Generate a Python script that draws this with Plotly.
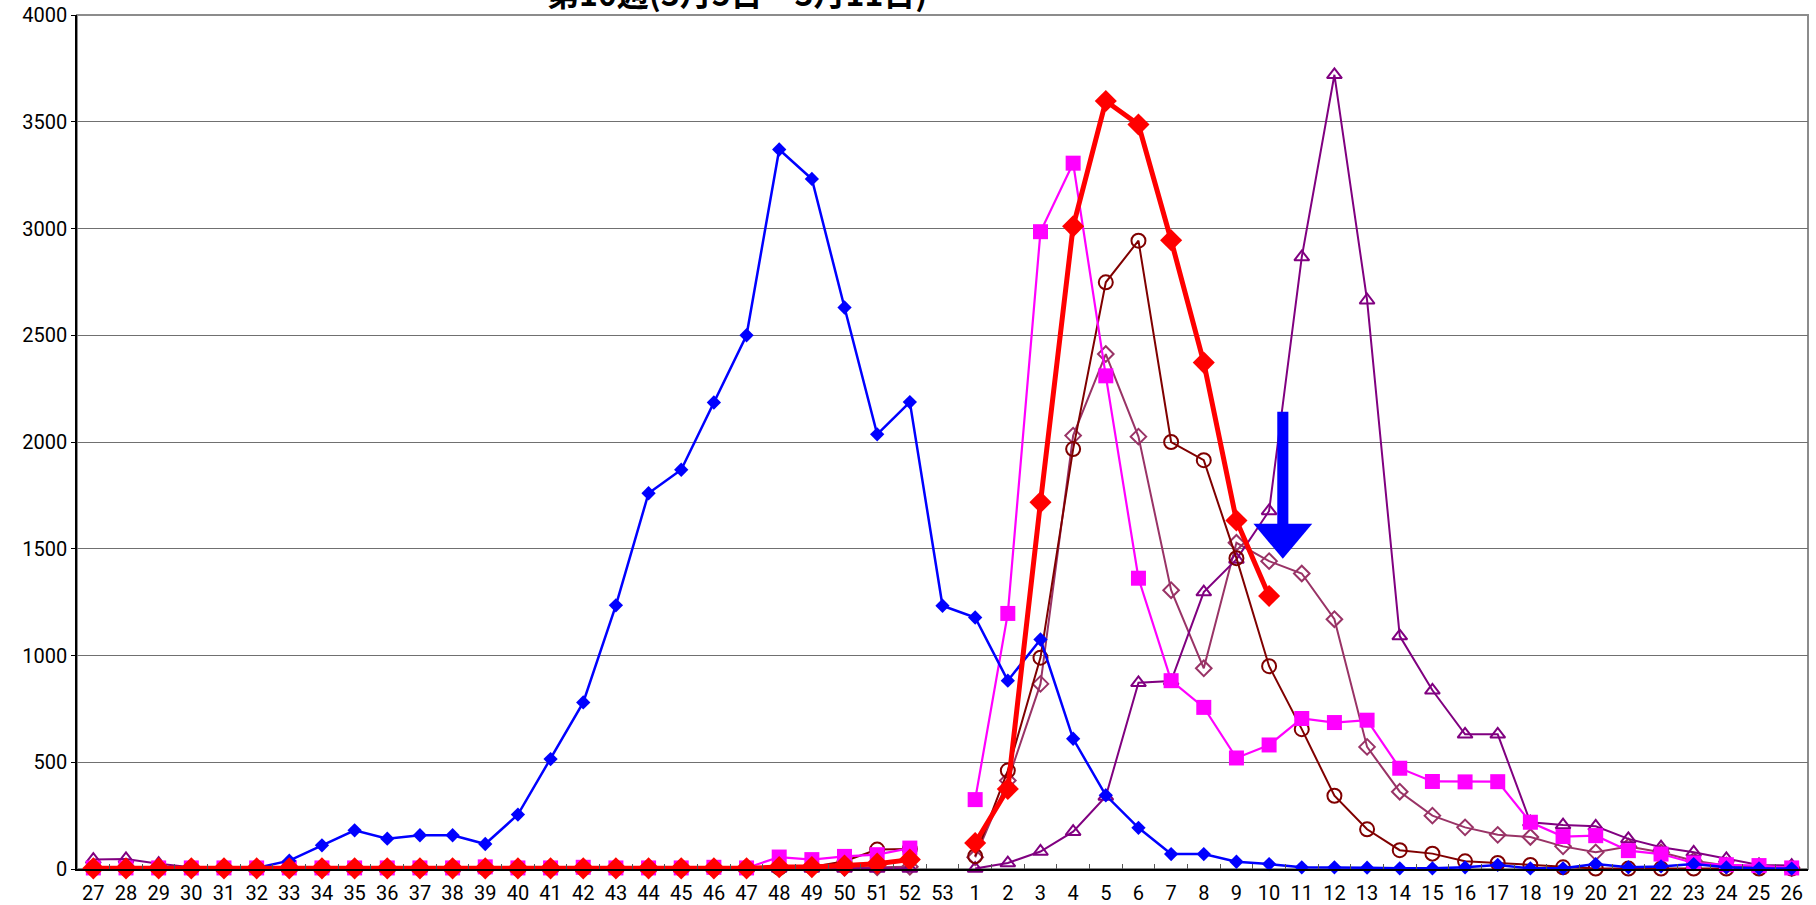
import plotly.graph_objects as go

weeks = [str(w) for w in range(27, 54)] + [str(w) for w in range(1, 27)]

# values for weeks 27..53, 1..26
s_blue = [3, 3, 3, 3, 3, 5, 39, 111, 181, 142, 158, 158, 117, 255, 515, 780, 1235, 1760, 1870, 2185, 2500,
          3370, 3232, 2630, 2036, 2187, 1233,
          1178, 882, 1075, 610, 345, 193, 70, 70, 34, 23, 8, 8, 6, 3, 3, 8, 19, 3, 3, 23, 8, 12, 23, 8, 3, 2]
s_magenta = [5, 5, 5, 5, 5, 5, 5, 5, 5, 5, 5, 5, 10, 5, 5, 8, 5, 5, 5, 8, 5,
             56, 44, 59, 67, 98, None,
             325, 1197, 2985, 3306, 2310, 1362, 882, 757, 520, 581, 705, 686, 697, 472, 410, 408, 409, 219,
             152, 156, 86, 70, 28, 20, 16, 5]
s_maroon = [3, 3, 3, 3, 3, 3, 3, 3, 3, 3, 3, 3, 3, 3, 3, 3, 3, 3, 3, 3, 3,
            5, 10, 36, 91, 94, None,
            60, 461, 990, 1967, 2748, 2943, 2000, 1915, 1456, 950, 655, 343, 186, 88, 72, 36, 28, 19,
            8, 2, 2, 2, 2, 2, 2, 2]
s_plum = [5, 5, 4, 3, 3, 3, 3, 3, 3, 3, 3, 3, 3, 3, 3, 3, 3, 3, 3, 3, 3,
          4, 5, 6, 8, 10, None,
          55, 414, 867, 2030, 2412, 2025, 1306, 940, 1528, 1442, 1384, 1170, 572, 362, 250, 195, 160, 150,
          106, 78, 105, 78, 39, 16, 10, 5]
s_purple = [44, 47, 25, 8, 3, 2, 2, 2, 2, 2, 2, 2, 2, 2, 2, 2, 2, 2, 2, 2, 2,
            2, 2, 2, 2, 2, None,
            2, 28, 82, 175, 340, 872, 880, 1297, 1450, 1677, 2866, 3720, 2664, 1091, 837, 631, 631, 219,
            206, 200, 141, 102, 78, 47, 19, 16]
s_red = [3, 3, 3, 3, 3, 3, 3, 3, 3, 3, 3, 3, 3, 3, 3, 3, 3, 3, 3, 3, 3,
         9, 9, 16, 25, 44, None,
         122, 375, 1718, 3010, 3597, 3487, 2945, 2372, 1632, 1279] + [None] * 16

y_ticks = list(range(0, 4001, 500))
title_text = "第10週(3月5日～3月11日)"
arrow_week_pos = 36.42
arrow_top, arrow_head, arrow_tip = 2142, 1617, 1453

fig = go.Figure()

def add(vals, color, symbol, size, lw, name, mline=None):
    fig.add_trace(go.Scatter(
        x=weeks, y=vals, mode="lines+markers", name=name,
        line=dict(color=color, width=lw), connectgaps=False, cliponaxis=False,
        marker=dict(symbol=symbol, size=size, color=color,
                    line=dict(color=color, width=mline if mline else 0)),
    ))

add(s_plum, "#993366", "diamond-open", 12, 2, "plum", 2)
add(s_purple, "#800080", "triangle-up-open", 13, 2, "purple", 2)
add(s_maroon, "#800000", "circle-open", 14, 2, "maroon", 2)
add(s_magenta, "#FF00FF", "square", 15, 2.2, "magenta")
add(s_blue, "#0000FF", "diamond", 11, 2.5, "blue")
add(s_red, "#FF0000", "diamond", 17, 5, "red")

fig.add_shape(type="rect", xref="paper", yref="paper", x0=0, x1=1, y0=0, y1=1,
              line=dict(color="#8c8c8c", width=2), layer="below")
fig.add_shape(type="rect", xref="x", yref="y",
              x0=arrow_week_pos - 0.17, x1=arrow_week_pos + 0.17, y0=arrow_head - 10, y1=arrow_top,
              line=dict(width=0), fillcolor="#0000FF")
fig.add_shape(type="path", xref="x", yref="y",
              path=f"M {arrow_week_pos-0.9},{arrow_head} L {arrow_week_pos+0.9},{arrow_head} L {arrow_week_pos},{arrow_tip} Z",
              line=dict(width=0), fillcolor="#0000FF")

fig.add_annotation(text=title_text, xref="paper", yref="paper", x=0.381, y=1,
                   xanchor="center", yanchor="bottom", yshift=-2, showarrow=False,
                   font=dict(family="Noto Sans CJK JP", size=32, color="black", weight="bold"))

tick_font = dict(family="Roboto, Liberation Sans, sans-serif", size=20, color="black")

fig.update_layout(
    width=1816, height=905,
    margin=dict(l=77, r=8, t=15, b=36, autoexpand=False),
    paper_bgcolor="white", plot_bgcolor="white",
    showlegend=False,
    xaxis=dict(type="category", categoryorder="array", categoryarray=weeks,
               range=[-0.5, len(weeks) - 0.5], showgrid=False,
               showline=True, linecolor="black", linewidth=1.5,
               ticks="inside", tickson="boundaries", ticklen=5, tickcolor="#555",
               tickfont=tick_font, tickangle=0, zeroline=False, ticklabelstandoff=5,
               automargin=False),
    yaxis=dict(range=[0, 4000], tickvals=y_ticks, showgrid=True, gridcolor="#707070", gridwidth=1,
               showline=True, linecolor="black", linewidth=1.5, ticks="outside", ticklen=4,
               tickcolor="black", tickfont=tick_font, zeroline=False, automargin=False),
)

fig.write_html("out.html", config={"displayModeBar": False},
               post_script="document.body.style.margin='0';")
